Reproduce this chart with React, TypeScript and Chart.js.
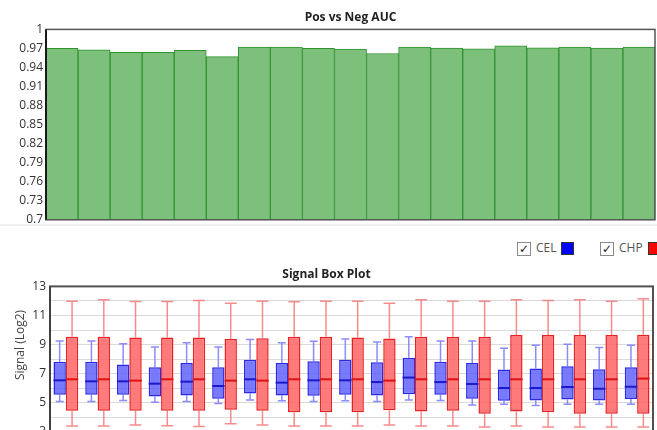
import React, { useEffect, useRef } from "react";
import { Chart, registerables } from "chart.js";

Chart.register(...registerables);

const FONT = "'Open Sans', 'Noto Sans', sans-serif";

// ---- Data ----
const samples = [
  "S01", "S02", "S03", "S04", "S05", "S06", "S07", "S08", "S09", "S10",
  "S11", "S12", "S13", "S14", "S15", "S16", "S17", "S18", "S19",
];

const aucValues = [
  0.970, 0.968, 0.964, 0.964, 0.967, 0.957, 0.972, 0.972, 0.970, 0.969,
  0.962, 0.972, 0.9705, 0.9695, 0.974, 0.971, 0.972, 0.9705, 0.972,
];

const aucTicks = [0.7, 0.73, 0.76, 0.79, 0.82, 0.85, 0.88, 0.91, 0.94, 0.97, 1];

const celMin = [5.08, 5.08, 5.15, 5.04, 5.08, 4.94, 5.18, 5.13, 5.08, 5.13, 5.08, 5.18, 5.15, 4.85, 4.90, 4.81, 4.90, 4.90, 4.90];
const celQ1 = [5.55, 5.55, 5.55, 5.43, 5.50, 5.27, 5.64, 5.50, 5.48, 5.55, 5.50, 5.59, 5.55, 5.27, 5.13, 5.15, 5.22, 5.15, 5.25];
const celMedian = [6.54, 6.47, 6.47, 6.31, 6.45, 6.15, 6.61, 6.38, 6.54, 6.54, 6.42, 6.73, 6.42, 6.29, 6.01, 6.01, 6.08, 5.96, 6.10];
const celQ3 = [7.81, 7.81, 7.63, 7.44, 7.74, 7.44, 7.95, 7.74, 7.86, 7.95, 7.79, 8.09, 7.81, 7.74, 7.28, 7.35, 7.51, 7.31, 7.44];
const celMax = [9.25, 9.25, 9.06, 8.83, 9.13, 8.83, 9.34, 9.13, 9.23, 9.39, 9.18, 9.53, 9.25, 9.25, 8.74, 8.95, 9.02, 8.79, 8.95];

const chpMin = [3.40, 3.40, 3.46, 3.42, 3.37, 3.56, 3.46, 3.40, 3.40, 3.40, 3.46, 3.40, 3.40, 3.33, 3.40, 3.33, 3.33, 3.33, 3.33];
const chpQ1 = [4.44, 4.44, 4.44, 4.44, 4.44, 4.51, 4.44, 4.34, 4.34, 4.34, 4.48, 4.39, 4.44, 4.25, 4.39, 4.34, 4.25, 4.25, 4.25];
const chpMedian = [6.61, 6.61, 6.52, 6.61, 6.61, 6.52, 6.52, 6.61, 6.61, 6.61, 6.52, 6.61, 6.61, 6.61, 6.61, 6.61, 6.61, 6.61, 6.66];
const chpQ3 = [9.53, 9.53, 9.48, 9.48, 9.48, 9.39, 9.44, 9.53, 9.53, 9.48, 9.41, 9.53, 9.53, 9.53, 9.65, 9.65, 9.65, 9.65, 9.67];
const chpMax = [11.98, 12.08, 11.96, 11.96, 12.03, 11.84, 11.98, 11.94, 11.98, 11.98, 11.84, 12.08, 11.98, 11.98, 12.08, 12.03, 12.08, 11.98, 12.15];

const signalTickLabels = ["3", "5", "7", "9", "11", "13"];

const seriesNames = ["CEL", "CHP"];

// ---- Plugins ----
function framePlugin(color: string, width: number, leftColor: string, leftWidth: number) {
  return {
    id: "frame",
    afterDraw(chart: any) {
      const { ctx, chartArea } = chart;
      const { left, top, right, bottom } = chartArea;
      ctx.save();
      ctx.strokeStyle = color;
      ctx.lineWidth = width;
      ctx.strokeRect(left, top, right - left, bottom - top);
      ctx.strokeStyle = leftColor;
      ctx.lineWidth = leftWidth;
      ctx.beginPath();
      ctx.moveTo(left, top);
      ctx.lineTo(left, bottom);
      ctx.stroke();
      ctx.restore();
    },
  };
}

const boxStats = [
  { min: celMin, med: celMedian, max: celMax, whisker: "rgba(120,120,250,0.85)", median: "#1a1acc", cap: 0.65 },
  { min: chpMin, med: chpMedian, max: chpMax, whisker: "rgba(245,120,120,0.85)", median: "#dd1111", cap: 0.95 },
];

const boxPlugin = {
  id: "boxWhiskers",
  beforeDatasetsDraw(chart: any) {
    const ctx = chart.ctx;
    const y = chart.scales.y;
    boxStats.forEach((s, di) => {
      const meta = chart.getDatasetMeta(di);
      const raw = chart.data.datasets[di].data as number[][];
      meta.data.forEach((bar: any, i: number) => {
        const { x, width } = bar.getProps(["x", "width"], true);
        const half = (width * s.cap) / 2;
        const yMax = y.getPixelForValue(s.max[i]);
        const yMin = y.getPixelForValue(s.min[i]);
        const yQ3 = y.getPixelForValue(raw[i][1]);
        const yQ1 = y.getPixelForValue(raw[i][0]);
        ctx.save();
        ctx.strokeStyle = s.whisker;
        ctx.lineWidth = 1.5;
        ctx.beginPath();
        ctx.moveTo(x, yQ3);
        ctx.lineTo(x, yMax);
        ctx.moveTo(x - half, yMax);
        ctx.lineTo(x + half, yMax);
        ctx.moveTo(x, yQ1);
        ctx.lineTo(x, yMin);
        ctx.moveTo(x - half, yMin);
        ctx.lineTo(x + half, yMin);
        ctx.stroke();
        ctx.restore();
      });
    });
  },
  afterDatasetsDraw(chart: any) {
    const ctx = chart.ctx;
    const y = chart.scales.y;
    boxStats.forEach((s, di) => {
      const meta = chart.getDatasetMeta(di);
      meta.data.forEach((bar: any, i: number) => {
        const { x, width } = bar.getProps(["x", "width"], true);
        const ym = y.getPixelForValue(s.med[i]);
        ctx.save();
        ctx.strokeStyle = s.median;
        ctx.lineWidth = 2;
        ctx.beginPath();
        ctx.moveTo(x - width / 2, ym);
        ctx.lineTo(x + width / 2, ym);
        ctx.stroke();
        ctx.restore();
      });
    });
  },
};

const yTitlePlugin = {
  id: "yTitle",
  afterDraw(chart: any) {
    const ctx = chart.ctx;
    ctx.save();
    ctx.translate(21, 87);
    ctx.rotate(-Math.PI / 2);
    ctx.font = `12px ${FONT}`;
    ctx.fillStyle = "#444";
    ctx.textAlign = "center";
    ctx.textBaseline = "middle";
    ctx.fillText("Signal (Log2)", 0, 0);
    ctx.restore();
  },
};

function Checkbox({ left }: { left: number }) {
  return (
    <span
      style={{
        position: "absolute",
        left,
        top: 242,
        width: 12,
        height: 12,
        border: "1px solid #8a8a8a",
        background: "#fff",
        fontSize: 12,
        lineHeight: "12px",
        textAlign: "center",
        color: "#1a1a1a",
        fontFamily: "'DejaVu Sans', sans-serif",
        fontWeight: "bold",
      }}
    >
      ✓
    </span>
  );
}

export default function App() {
  const topRef = useRef<HTMLCanvasElement>(null);
  const botRef = useRef<HTMLCanvasElement>(null);

  useEffect(() => {
    const top = new Chart(topRef.current as HTMLCanvasElement, {
      type: "bar",
      data: {
        labels: samples,
        datasets: [
          {
            data: aucValues,
            backgroundColor: "#7cc07c",
            borderColor: "#2f922f",
            borderWidth: 1,
            barPercentage: 1,
            categoryPercentage: 1,
          },
        ],
      },
      options: {
        responsive: false,
        animation: false,
        layout: { padding: { left: 0, right: 2, top: 0, bottom: 7 } },
        plugins: {
          legend: { display: false },
          tooltip: { enabled: false },
          title: {
            display: true,
            text: "Pos vs Neg AUC",
            fullSize: false,
            color: "#222",
            font: { family: FONT, size: 12, weight: "bold" },
            padding: { top: 10, bottom: 5 },
          },
        },
        scales: {
          x: { display: false },
          y: {
            min: 0.7,
            max: 1,
            afterBuildTicks: (scale: any) => {
              scale.ticks = aucTicks.map((v) => ({ value: v }));
            },
            ticks: {
              autoSkip: false,
              color: "#333",
              font: { family: FONT, size: 12 },
              padding: 3,
              callback: (v: any) => String(Number(Number(v).toFixed(2))),
            },
            grid: { display: false, drawTicks: false },
            border: { display: false },
            afterFit: (s: any) => {
              s.width = 46;
            },
          },
        },
      } as any,
      plugins: [framePlugin("#555", 1.5, "#1a1a1a", 2)],
    });

    const bottom = new Chart(botRef.current as HTMLCanvasElement, {
      type: "bar",
      data: {
        labels: samples,
        datasets: [
          {
            label: seriesNames[0],
            data: samples.map((_, i) => [celQ1[i], celQ3[i]]),
            backgroundColor: "rgba(92,92,250,0.82)",
            borderColor: "#2a2ae6",
            borderWidth: 1.5,
            borderSkipped: false,
            barPercentage: 1,
            categoryPercentage: 0.78,
          },
          {
            label: seriesNames[1],
            data: samples.map((_, i) => [chpQ1[i], chpQ3[i]]),
            backgroundColor: "rgba(255,100,100,0.85)",
            borderColor: "#e82222",
            borderWidth: 1.5,
            borderSkipped: false,
            barPercentage: 1,
            categoryPercentage: 0.78,
          },
        ],
      },
      options: {
        responsive: false,
        animation: false,
        layout: { padding: { left: 0, right: 4, top: 0, bottom: 7.5 } },
        plugins: {
          legend: { display: false },
          tooltip: { enabled: false },
          title: {
            display: true,
            text: "Signal Box Plot",
            color: "#222",
            font: { family: FONT, size: 12, weight: "bold" },
            padding: { top: 9, bottom: 5 },
          },
        },
        scales: {
          x: { display: false },
          y: {
            min: 3,
            max: 13,
            ticks: {
              stepSize: 1,
              autoSkip: false,
              color: "#333",
              font: { family: FONT, size: 12 },
              padding: 4,
              callback: (v: any) => {
                const s = String(v);
                return signalTickLabels.includes(s) ? s : "";
              },
            },
            grid: { color: "#dadada", lineWidth: 1, drawTicks: false },
            border: { display: false },
            afterFit: (s: any) => {
              s.width = 50;
            },
          },
        },
      } as any,
      plugins: [boxPlugin, framePlugin("#505050", 2, "#404040", 2), yTitlePlugin],
    });

    return () => {
      top.destroy();
      bottom.destroy();
    };
  }, []);

  const legendText: React.CSSProperties = {
    position: "absolute",
    top: 239,
    fontFamily: FONT,
    fontSize: 12,
    color: "#555",
    lineHeight: "18px",
  };

  return (
    <div
      style={{
        position: "fixed",
        left: 0,
        top: 0,
        width: 657,
        height: 430,
        overflow: "hidden",
        background: "#fff",
      }}
    >
      <canvas ref={topRef} width={657} height={230} style={{ position: "absolute", left: 0, top: 0 }} />
      <div style={{ position: "absolute", left: 0, top: 224, width: 657, height: 2, background: "#efefef" }} />
      <Checkbox left={517} />
      <span style={{ ...legendText, left: 536 }}>{seriesNames[0]}</span>
      <span
        style={{
          position: "absolute",
          left: 561,
          top: 242,
          width: 11,
          height: 11,
          background: "#0000ff",
          border: "1px solid #333",
        }}
      />
      <Checkbox left={600} />
      <span style={{ ...legendText, left: 619 }}>{seriesNames[1]}</span>
      <span
        style={{
          position: "absolute",
          left: 648,
          top: 242,
          width: 11,
          height: 11,
          background: "#ff0000",
          border: "1px solid #333",
        }}
      />
      <canvas ref={botRef} width={657} height={185} style={{ position: "absolute", left: 0, top: 258 }} />
    </div>
  );
}
